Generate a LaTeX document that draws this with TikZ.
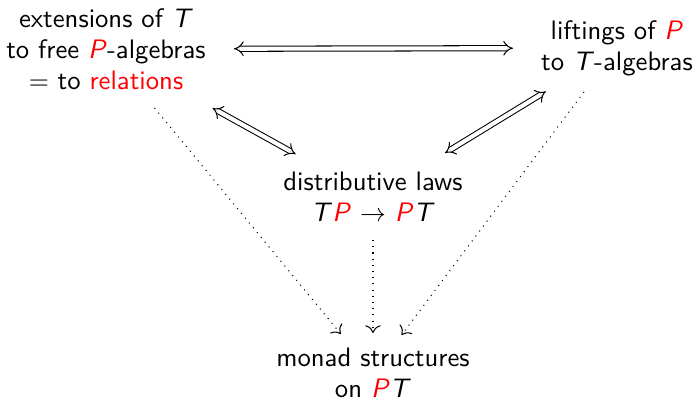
\documentclass[tikz,border=0pt]{standalone}
\usetikzlibrary{arrows.meta}
\renewcommand{\familydefault}{\sfdefault}
\newcommand{\vT}{\textit{T}}
\newcommand{\vP}{\textcolor{red}{\textit{P}}}
\begin{document}
\begin{tikzpicture}[x=0.3876pt,y=-0.3876pt,
  lbl/.style={align=center,inner sep=0pt,font=\fontsize{10.35}{12}\selectfont},
  equiv/.style={double equal sign distance,{Implies}-{Implies}},
  impl/.style={dotted,-{Computer Modern Rightarrow[length=3pt,width=6pt]}}]
  \useasboundingbox (0,0) rectangle (695,401);
  \node[lbl] (ext)  at (106,49)  {extensions of \vT\\ to free \vP-algebras\\ \(=\) to \textcolor{red}{relations}};
  \node[lbl] (lift) at (617,48)  {liftings of \vP\\ to \vT-algebras};
  \node[lbl] (dist) at (373,197) {distributive laws\\ \vT\vP\ \(\to\) \vP\vT};
  \node[lbl] (mon)  at (373,373) {monad structures\\ on \vP\vT};
  \draw[equiv, shorten <=49.6pt, shorten >=40.3pt] (ext.center) -- (lift.center);
  \draw[equiv, shorten <=47.2pt, shorten >=34.3pt] (ext.center) -- (dist.center);
  \draw[equiv, shorten <=32.3pt, shorten >=32.7pt] (lift.center) -- (dist.center);
  \draw[impl, shorten <=29.6pt, shorten >=19.6pt] (ext.center) -- (mon.center);
  \draw[impl, shorten <=16.7pt, shorten >=15.5pt] (dist.center) -- (mon.center);
  \draw[impl, shorten <=21.3pt, shorten >=18.4pt] (lift.center) -- (mon.center);
\end{tikzpicture}
\end{document}
